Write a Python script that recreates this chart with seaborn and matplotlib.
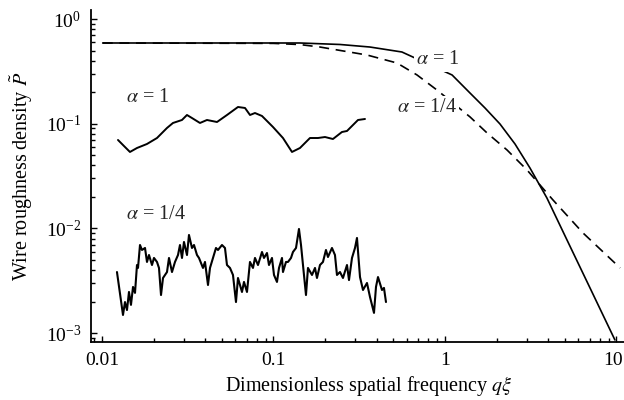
import numpy as np
import pandas as pd
import matplotlib
matplotlib.use("Agg")
import matplotlib.pyplot as plt
import matplotlib.transforms as mtransforms
import seaborn as sns
from matplotlib.ticker import FixedLocator, FixedFormatter, LogLocator, NullFormatter

sns.set_theme(style="ticks")
plt.rcParams["font.family"] = ["Liberation Serif", "DejaVu Serif"]
plt.rcParams["mathtext.fontset"] = "stix"

# ---- spectral density curves ----
q_psd_a1 = [0.0101, 0.1427, 0.2443, 0.365, 0.561, 1.10, 1.399, 1.711, 2.093, 2.560, 3.131,
            3.93, 5.145, 7.007, 9.79]
P_psd_a1 = [0.59, 0.59, 0.571, 0.540, 0.484, 0.292, 0.1964, 0.1413, 0.0993, 0.0640, 0.0377,
            0.0195, 0.00775, 0.00270, 0.00086]

q_psd_a14 = [0.0101, 0.10, 0.1427, 0.1866, 0.351, 0.525, 0.687, 0.897, 1.40, 1.76, 2.30, 3.01, 4.26, 6.38, 10.5]
P_psd_a14 = [0.59, 0.585, 0.57, 0.540, 0.453, 0.380, 0.292, 0.210, 0.116, 0.0815, 0.0561, 0.0361, 0.0187, 0.00904, 0.00419]

# ---- example wire profile, alpha = 1 ----
q_prof_a1 = [0.01240, 0.01344, 0.01456, 0.01600, 0.01829, 0.02093, 0.02393, 0.02594, 0.02927,
             0.03130, 0.03348, 0.03727, 0.04094, 0.04685, 0.05357, 0.06209, 0.06823, 0.07296,
             0.07801, 0.08570, 0.09934, 0.1136, 0.1282, 0.1427, 0.1632, 0.1818, 0.1997,
             0.2222, 0.2507, 0.2683, 0.3110, 0.3416]
P_prof_a1 = [0.0699, 0.0612, 0.0537, 0.0586, 0.0640, 0.0730, 0.0910, 0.1016, 0.1085,
             0.1211, 0.1133, 0.1016, 0.1085, 0.1038, 0.1211, 0.1444, 0.1413, 0.1211,
             0.1265, 0.1185, 0.0930, 0.0730, 0.0537, 0.0586, 0.0730, 0.0730, 0.0746,
             0.0714, 0.0833, 0.0852, 0.1085, 0.1109]

# ---- example wire profile, alpha = 1/4 ----
q_prof_a14 = [0.01223, 0.01326, 0.01362, 0.01399, 0.01437, 0.01476, 0.01517, 0.01558, 0.01600,
              0.01622, 0.01666, 0.01711, 0.01782, 0.01830, 0.01880, 0.01957, 0.02010, 0.02093,
              0.02150, 0.02209, 0.02269, 0.02394, 0.02459, 0.02560, 0.02665, 0.02775, 0.02850,
              0.02928, 0.03007, 0.03131, 0.03216, 0.03348, 0.03440, 0.03581, 0.03678, 0.03881,
              0.03987, 0.04151, 0.04264, 0.04439, 0.04621, 0.04747, 0.05009, 0.05214, 0.05356,
              0.05577, 0.05806, 0.06044, 0.06209, 0.06552, 0.06730, 0.07007, 0.07294, 0.07594,
              0.07801, 0.08122, 0.08570, 0.08803, 0.09165, 0.09415, 0.09800, 0.1007, 0.1048,
              0.1077, 0.1121, 0.1136, 0.1183, 0.1215, 0.1265, 0.1299, 0.1353, 0.1408,
              0.1447, 0.1486, 0.1547, 0.1589, 0.1677, 0.1746, 0.1793, 0.1867, 0.1943,
              0.2023, 0.2078, 0.2193, 0.2283, 0.2345, 0.2442, 0.2542, 0.2683, 0.2756,
              0.2869, 0.2987, 0.3068, 0.3195, 0.3326, 0.3509, 0.3654, 0.3855, 0.3960,
              0.4068, 0.4292, 0.4408, 0.4528]
P_prof_a14 = [0.00383, 0.00149, 0.00198, 0.00166, 0.00247, 0.00186, 0.00276, 0.00242, 0.00447,
              0.00419, 0.00694, 0.00622, 0.00650, 0.00478, 0.00557, 0.00447, 0.00522, 0.00478,
              0.00419, 0.00231, 0.00336, 0.00383, 0.00522, 0.00383, 0.00478, 0.00557, 0.00694,
              0.00522, 0.00742, 0.00557, 0.00865, 0.00650, 0.00694, 0.00557, 0.00522, 0.00419,
              0.00478, 0.00288, 0.00419, 0.00522, 0.00650, 0.00622, 0.00694, 0.00650, 0.00447,
              0.00419, 0.00359, 0.00198, 0.00336, 0.00247, 0.00308, 0.00247, 0.00478, 0.00419,
              0.00522, 0.00447, 0.00595, 0.00522, 0.00582, 0.00447, 0.00522, 0.00359, 0.00308,
              0.00419, 0.00522, 0.00383, 0.00478, 0.00478, 0.00522, 0.00595, 0.00650, 0.00987,
              0.00694, 0.00447, 0.00231, 0.00419, 0.00359, 0.00419, 0.00336, 0.00447, 0.00478,
              0.00622, 0.00533, 0.00650, 0.00557, 0.00359, 0.00383, 0.00336, 0.00447, 0.00321,
              0.00522, 0.00650, 0.00810, 0.00343, 0.00258, 0.00301, 0.00221, 0.00156, 0.00276,
              0.00343, 0.00258, 0.00270, 0.00198]

x_ticks = [0.01, 0.1, 1, 10]
x_tick_labels = ["0.01", "0.1", "1", "10"]

fig = plt.figure(figsize=(6.24, 4.0), dpi=100)
ax = fig.add_axes([91 / 624, 1 - 342 / 400, (624 - 91) / 624, (342 - 10) / 400])
ax.set_xscale("log")
ax.set_yscale("log")

kw = dict(ax=ax, color="black", estimator=None, sort=False, legend=False)
sns.lineplot(x=q_psd_a1, y=P_psd_a1, lw=1.2, **kw)
sns.lineplot(x=q_psd_a14, y=P_psd_a14, lw=1.2, linestyle=(0, (6, 4)), **kw)
sns.lineplot(x=q_prof_a1, y=P_prof_a1, lw=1.4, **kw)
sns.lineplot(x=q_prof_a14, y=P_prof_a14, lw=1.5, **kw)

ax.set_xlim(0.00863, 11.06)
ax.set_ylim(8.22e-4, 1.219)

ax.xaxis.set_major_locator(FixedLocator(x_ticks))
ax.xaxis.set_major_formatter(FixedFormatter(x_tick_labels))
ax.xaxis.set_minor_locator(LogLocator(base=10, subs=np.arange(2, 10)))
ax.xaxis.set_minor_formatter(NullFormatter())
ax.yaxis.set_minor_locator(LogLocator(base=10, subs=np.arange(2, 10)))
ax.yaxis.set_minor_formatter(NullFormatter())

for s in ["top", "right"]:
    ax.spines[s].set_visible(False)
for s in ["left", "bottom"]:
    ax.spines[s].set_linewidth(1.3)
    ax.spines[s].set_color("black")

ax.tick_params(which="both", direction="in", colors="black", labelsize=14, width=1.0)
ax.tick_params(which="major", length=4, pad=7)
ax.tick_params(which="minor", length=3)

# keep the last x tick label ("10") inside the figure at the right edge
fig.canvas.draw()
last = ax.get_xticklabels()[-1]
last.set_horizontalalignment("right")
last.set_transform(last.get_transform() + mtransforms.ScaledTranslation(6 / 100, 0, fig.dpi_scale_trans))

ax.set_xlabel(r"Dimensionless spatial frequency $q\xi$", fontsize=14.5, color="black")
ax.set_ylabel(r"Wire roughness density $\tilde{P}$", fontsize=14.5, color="black")
ax.xaxis.set_label_coords(0.522, -0.095)
ax.yaxis.set_label_coords(-0.105, 0.5)

box = dict(facecolor="white", edgecolor="none", pad=1.5)
ax.text(0.91, 0.406, r"$\alpha$ = 1", fontsize=14.5, ha="center", va="center", bbox=box)
ax.text(0.785, 0.144, r"$\alpha$ = 1/4", fontsize=14.5, ha="center", va="center", bbox=box)
ax.text(0.01854, 0.176, r"$\alpha$ = 1", fontsize=14.5, ha="center", va="center")
ax.text(0.02066, 0.01343, r"$\alpha$ = 1/4", fontsize=14.5, ha="center", va="center")

fig.savefig("out.png", dpi=100, facecolor="white")
